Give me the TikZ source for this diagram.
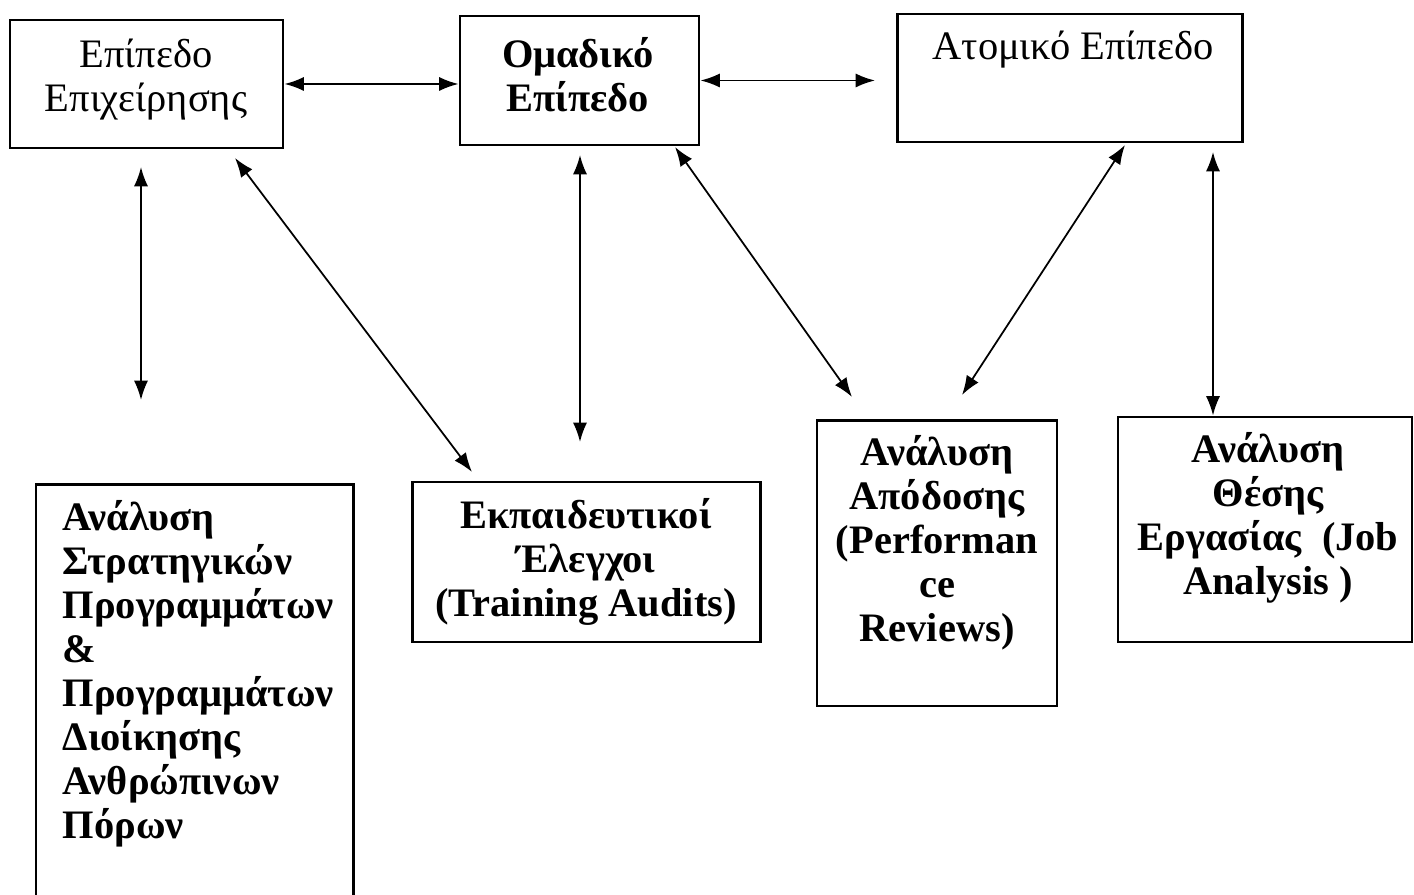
\documentclass[tikz,border=0pt]{standalone}
\usepackage{fontspec}
\setmainfont{Liberation Serif}
\usetikzlibrary{arrows.meta}
\tikzset{
  box/.style={draw, rectangle, line width=0.8pt, inner sep=0pt},
  lbl/.style={align=center, inner sep=0pt, font=\fontsize{11.5}{12.5}\selectfont\bfseries},
  lblreg/.style={lbl, font=\fontsize{11.5}{12.5}\selectfont},
  link/.style={{Latex[length=5.5pt,width=4pt]}-{Latex[length=5.5pt,width=4pt]}, line width=0.5pt},
}
\begin{document}
\begin{tikzpicture}[x=0.01cm,y=-0.01cm]
\useasboundingbox (0,0) rectangle (1414,895);
\node[box, minimum width=2.73cm, minimum height=1.28cm] (epix) at (146.5,84){};
\node[box, minimum width=2.39cm, minimum height=1.29cm] (omad) at (579.5,80.5){};
\node[box, minimum width=3.44cm, minimum height=1.28cm] (atom) at (1070,78){};
\node[box, minimum width=3.17cm, minimum height=4.25cm] (strat) at (194.5,697.5){};
\node[box, minimum width=3.47cm, minimum height=1.60cm] (audit) at (586.5,562){};
\node[box, minimum width=2.40cm, minimum height=2.85cm] (perf) at (937,563.5){};
\node[box, minimum width=2.94cm, minimum height=2.25cm] (job) at (1265,529.5){};
\node[lblreg] (epixT) at (146,80){Επίπεδο\\Επιχείρησης};
\node[lbl] (omadT) at (578,75){Ομαδικό\\Επίπεδο};
\node[lblreg] (atomT) at (1073,50){Ατομικό Επίπεδο};
\node[lbl, align=left, anchor=west] (stratT) at (62,674){Ανάλυση\\Στρατηγικών\\Προγραμμάτων\\\&\\Προγραμμάτων\\Διοίκησης\\Ανθρώπινων\\Πόρων};
\node[lbl] (auditT) at (586,562){Εκπαιδευτικοί\\Έλεγχοι\\(Training Audits)};
\node[lbl] (perfT) at (937,543){Ανάλυση\\Απόδοσης\\(Performan\\ce\\Reviews)};
\node[lbl] (jobT) at (1268,518){Ανάλυση\\Θέσης\\Εργασίας~~(Job\\Analysis~)};
\coordinate (c1) at (875,80.5);
\coordinate (c2a) at (141,167);
\coordinate (c2b) at (141,400);
\coordinate (c3a) at (235,158);
\coordinate (c3b) at (472,472);
\coordinate (c4a) at (580,155);
\coordinate (c4b) at (580,442);
\coordinate (c5a) at (675,147);
\coordinate (c5b) at (852,397);
\coordinate (c6a) at (1125,145);
\coordinate (c6b) at (962,395);
\coordinate (c7) at (1213,152);
\draw[link](epix.east) -- (epix.east -| omad.west);
\draw[link](omad.east) -- (c1);
\draw[link](c2a) -- (c2b);
\draw[link](c3a) -- (c3b);
\draw[link](c4a) -- (c4b);
\draw[link](c5a) -- (c5b);
\draw[link](c6a) -- (c6b);
\draw[link](c7) -- (c7 |- job.north);
\end{tikzpicture}
\end{document}
